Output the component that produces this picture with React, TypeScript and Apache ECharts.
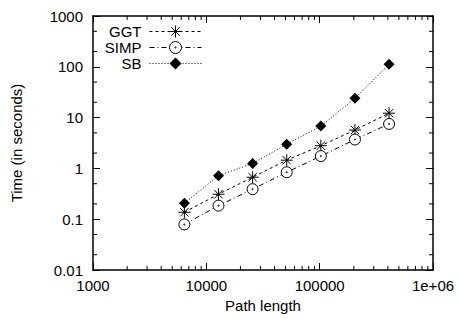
import React, { useEffect, useRef } from "react";
import * as echarts from "echarts";

const pathLengths = [6400, 12800, 25600, 51200, 102400, 204800, 409600];
const ggtTimes = [0.137, 0.31, 0.67, 1.45, 2.8, 5.7, 12.2];
const simpTimes = [0.079, 0.185, 0.39, 0.84, 1.75, 3.7, 7.5];
const sbTimes = [0.206, 0.72, 1.25, 3.0, 6.8, 24, 112];

const seriesNames = ["GGT", "SIMP", "SB"];
const X_MIN = 1000;
const X_MAX = 1000000;
const Y_MIN = 0.01;
const Y_MAX = 1000;
const xDecades = [1000, 10000, 100000];
const xMinorMultipliers = [2, 3, 4, 5, 6, 7, 8, 9];
const yDecades = [0.01, 0.1, 1, 10, 100];
const yMinorMultipliers = [2, 5];

const FONT = "Liberation Sans, Arial, Helvetica, sans-serif";
const FS = 15;

const starPath =
  "path://M0,-10L0,10M-10,0L10,0M-7,-7L7,7M-7,7L7,-7";
const circleDotPath =
  "path://M10,0A10,10,0,1,1,-10,0A10,10,0,1,1,10,0ZM1,0A1,1,0,1,1,-1,0A1,1,0,1,1,1,0Z";

function fmtX(v: number): string {
  const e = Math.round(Math.log10(v));
  if (e >= 6) return "1e+0" + e;
  return String(Math.pow(10, e));
}
function fmtY(v: number): string {
  const e = Math.round(Math.log10(v));
  if (e < 0) return Math.pow(10, e).toFixed(-e);
  return String(Math.pow(10, e));
}

export default function App() {
  const ref = useRef<HTMLDivElement>(null);
  useEffect(() => {
    if (!ref.current) return;
    const chart = echarts.init(ref.current, undefined, { renderer: "svg" });

    const xMinor: number[][] = [];
    xDecades.forEach((d) => xMinorMultipliers.forEach((m) => xMinor.push([d * m, 1])));
    const yMinor: number[][] = [];
    yDecades.forEach((d) => yMinorMultipliers.forEach((m) => yMinor.push([10000, d * m])));

    const tickStyle = { stroke: "#000", lineWidth: 1 };
    const MINOR = 4;

    const axisCommon = {
      type: "log" as const,
      logBase: 10,
      axisLine: { show: true, onZero: false, lineStyle: { color: "#000", width: 1.5 } },
      axisTick: { show: true, inside: true, length: 7, lineStyle: { color: "#000", width: 1 } },
      splitLine: { show: false },
      minorTick: { show: false },
    };

    const mk = (name: string, data: number[], symbol: string, size: number, dash: number[], itemStyle: any) => ({
      name,
      type: "line",
      data: pathLengths.map((x, i) => [x, data[i]]),
      symbol,
      symbolSize: size,
      showSymbol: true,
      lineStyle: { color: "#000", width: 1, type: dash },
      itemStyle,
      z: 3,
    });

    chart.setOption({
      animation: false,
      backgroundColor: "#fff",
      grid: { left: 93, right: 26, top: 16, bottom: 50, containLabel: false },
      xAxis: [
        {
          ...axisCommon,
          position: "bottom",
          min: X_MIN,
          max: X_MAX,
          name: "Path length",
          nameLocation: "middle",
          nameGap: 27,
          nameTextStyle: { fontSize: FS, color: "#000", fontFamily: FONT },
          axisLabel: { fontSize: FS, color: "#000", fontFamily: FONT, margin: 8, formatter: fmtX },
        },
        {
          ...axisCommon,
          position: "top",
          min: X_MIN,
          max: X_MAX,
          axisLabel: { show: false },
        },
      ],
      yAxis: [
        {
          ...axisCommon,
          position: "left",
          min: Y_MIN,
          max: Y_MAX,
          name: "Time (in seconds)",
          nameLocation: "middle",
          nameRotate: 90,
          nameGap: 69,
          nameTextStyle: { fontSize: FS, color: "#000", fontFamily: FONT },
          axisLabel: { fontSize: FS, color: "#000", fontFamily: FONT, margin: 10, formatter: fmtY },
        },
        {
          ...axisCommon,
          position: "right",
          min: Y_MIN,
          max: Y_MAX,
          axisLabel: { show: false },
        },
      ],
      legend: seriesNames.map((n, i) => ({
        data: [n],
        orient: "vertical",
        align: "right",
        right: 257,
        top: 24 + 16 * i,
        itemWidth: 52,
        itemHeight: 15,
        itemGap: 0,
        padding: 0,
        selectedMode: false,
        lineStyle: { width: 1 },
        itemStyle: { borderWidth: 1 },
        textStyle: { fontSize: FS, color: "#000", fontFamily: FONT, padding: [0, 3, 0, 0] },
      })),
      series: [
        mk("GGT", ggtTimes, starPath, 12, [3, 3], { color: "transparent", borderColor: "#000", borderWidth: 1 }),
        mk("SIMP", simpTimes, circleDotPath, 11, [5, 3, 1, 3], { color: "#fff", borderColor: "#000", borderWidth: 1 }),
        mk("SB", sbTimes, "diamond", 11, [1, 2], { color: "#000" }),
        {
          type: "custom",
          silent: true,
          data: xMinor,
          renderItem: (_p: any, api: any) => {
            const v = api.value(0);
            const b = api.coord([v, Y_MIN]);
            const t = api.coord([v, Y_MAX]);
            return {
              type: "group",
              children: [
                { type: "line", shape: { x1: b[0], y1: b[1], x2: b[0], y2: b[1] - MINOR }, style: tickStyle },
                { type: "line", shape: { x1: t[0], y1: t[1], x2: t[0], y2: t[1] + MINOR }, style: tickStyle },
              ],
            };
          },
        },
        {
          type: "custom",
          silent: true,
          data: yMinor,
          renderItem: (_p: any, api: any) => {
            const v = api.value(1);
            const l = api.coord([X_MIN, v]);
            const r = api.coord([X_MAX, v]);
            return {
              type: "group",
              children: [
                { type: "line", shape: { x1: l[0], y1: l[1], x2: l[0] + MINOR, y2: l[1] }, style: tickStyle },
                { type: "line", shape: { x1: r[0], y1: r[1], x2: r[0] - MINOR, y2: r[1] }, style: tickStyle },
              ],
            };
          },
        },
      ],
    });
    return () => chart.dispose();
  }, []);
  return (
    <div
      ref={ref}
      style={{ position: "absolute", left: 0, top: 0, width: 459, height: 320, background: "#fff" }}
    />
  );
}
